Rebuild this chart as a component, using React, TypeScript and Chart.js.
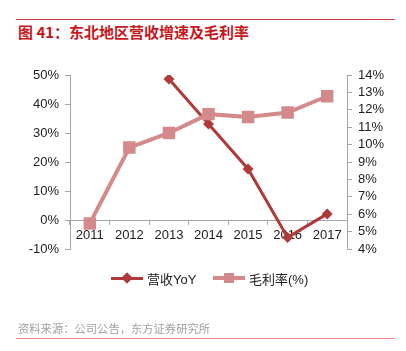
import React, { useEffect, useRef } from "react";
import { Chart, registerables } from "chart.js";

Chart.register(...registerables);

const categories = ["2011", "2012", "2013", "2014", "2015", "2016", "2017"];
const revenueYoY = [null, null, 48.6, 33.1, 17.6, -6.0, 2.1];
const grossMargin = [5.47, 9.83, 10.67, 11.75, 11.59, 11.84, 12.78];
const seriesNames = ["营收YoY", "毛利率(%)"];
const titleText = "图 41：东北地区营收增速及毛利率";
const sourceText = "资料来源：公司公告，东方证券研究所";

const DARK = "#B03A3A";
const PINK = "#D48A8A";
const AXIS = "#A6A6A6";
const FONT = "'Liberation Sans', Arial, 'Noto Sans CJK SC', sans-serif";

export default function App() {
  const ref = useRef<HTMLCanvasElement | null>(null);

  useEffect(() => {
    if (!ref.current) return;
    const chart = new Chart(ref.current, {
      type: "line",
      data: {
        labels: categories,
        datasets: [
          {
            label: seriesNames[0],
            data: revenueYoY as any,
            yAxisID: "y",
            borderColor: DARK,
            backgroundColor: DARK,
            borderWidth: 3,
            pointStyle: "rectRot",
            pointRadius: 5.5,
            pointBorderWidth: 0,
            pointBackgroundColor: DARK,
            tension: 0,
            spanGaps: false,
            order: 1,
          },
          {
            label: seriesNames[1],
            data: grossMargin,
            yAxisID: "y1",
            borderColor: PINK,
            backgroundColor: PINK,
            borderWidth: 4,
            pointStyle: "rect",
            pointRadius: 8.8,
            pointBorderWidth: 0,
            pointBackgroundColor: PINK,
            tension: 0,
            order: 0,
          },
        ],
      },
      options: {
        animation: false,
        responsive: false,
        devicePixelRatio: 1,
        layout: { padding: { left: 0, right: 0, top: 75, bottom: 102 } },
        plugins: {
          legend: { display: false },
          tooltip: { enabled: false },
          title: { display: false },
        },
        scales: {
          x: {
            type: "category",
            position: { y: 0 } as any,
            offset: true,
            grid: {
              offset: true,
              drawOnChartArea: false,
              drawTicks: true,
              tickLength: 4,
              color: AXIS,
            },
            border: { color: AXIS, width: 1 },
            ticks: {
              color: "#222",
              font: { family: FONT, size: 13 },
              padding: 4,
              maxRotation: 0,
              autoSkip: false,
            },
          },
          y: {
            position: "left",
            min: -10,
            max: 50,
            grid: {
              drawOnChartArea: false,
              drawTicks: true,
              tickLength: 5,
              color: AXIS,
            },
            border: { color: AXIS, width: 1 },
            ticks: {
              stepSize: 10,
              autoSkip: false,
              color: "#222",
              font: { family: FONT, size: 13 },
              padding: 6,
              callback: (v: any) => `${v}%`,
            },
            afterFit: (s: any) => {
              s.width = 70;
            },
          },
          y1: {
            position: "right",
            min: 4,
            max: 14,
            grid: {
              drawOnChartArea: false,
              drawTicks: true,
              tickLength: 5,
              color: AXIS,
            },
            border: { color: AXIS, width: 1 },
            ticks: {
              stepSize: 1,
              autoSkip: false,
              color: "#222",
              font: { family: FONT, size: 13 },
              padding: 6,
              callback: (v: any) => `${v}%`,
            },
            afterFit: (s: any) => {
              s.width = 59;
            },
          },
        },
      },
    });
    return () => chart.destroy();
  }, []);

  const legendItem = (kind: "diamond" | "square", color: string, text: string, left: number) => (
    <div
      style={{
        position: "absolute",
        left,
        top: 270,
        height: 16,
        display: "flex",
        alignItems: "center",
        fontFamily: FONT,
        fontSize: 13,
        color: "#222",
        whiteSpace: "nowrap",
      }}
    >
      <div style={{ position: "relative", width: 32, height: 16, marginRight: 4 }}>
        <div
          style={{
            position: "absolute",
            left: 0,
            top: kind === "diamond" ? 6.5 : 6,
            width: 32,
            height: kind === "diamond" ? 3 : 4,
            background: color,
          }}
        />
        {kind === "diamond" ? (
          <div
            style={{
              position: "absolute",
              left: 12,
              top: 4,
              width: 8,
              height: 8,
              background: color,
              transform: "rotate(45deg)",
            }}
          />
        ) : (
          <div
            style={{
              position: "absolute",
              left: 11,
              top: 3,
              width: 10,
              height: 10,
              background: color,
            }}
          />
        )}
      </div>
      <span>{text}</span>
    </div>
  );

  return (
    <div
      style={{
        position: "absolute",
        left: 0,
        top: 0,
        width: 406,
        height: 351,
        background: "#fff",
        overflow: "hidden",
      }}
    >
      <div
        style={{
          position: "absolute",
          left: 16,
          top: 19,
          width: 379,
          height: 1,
          background: "#D03A3A",
        }}
      />
      <div
        style={{
          position: "absolute",
          left: 18,
          top: 23,
          fontFamily: "'Noto Sans CJK SC', sans-serif",
          fontWeight: "bold",
          fontSize: 15,
          lineHeight: "18px",
          color: "#C8161D",
          whiteSpace: "pre",
        }}
      >
        {titleText}
      </div>
      <canvas
        ref={ref}
        width={406}
        height={351}
        style={{ position: "absolute", left: 0, top: 0, width: 406, height: 351 }}
      />
      {legendItem("diamond", DARK, seriesNames[0], 111)}
      {legendItem("square", PINK, seriesNames[1], 213)}
      <div
        style={{
          position: "absolute",
          left: 18,
          top: 320,
          fontFamily: "'Noto Sans CJK SC', sans-serif",
          fontSize: 11.3,
          lineHeight: "16px",
          color: "#A0A0A0",
          whiteSpace: "nowrap",
        }}
      >
        {sourceText}
      </div>
      <div
        style={{
          position: "absolute",
          left: 16,
          top: 338,
          width: 379,
          height: 1,
          background: "#F08A8A",
        }}
      />
    </div>
  );
}
